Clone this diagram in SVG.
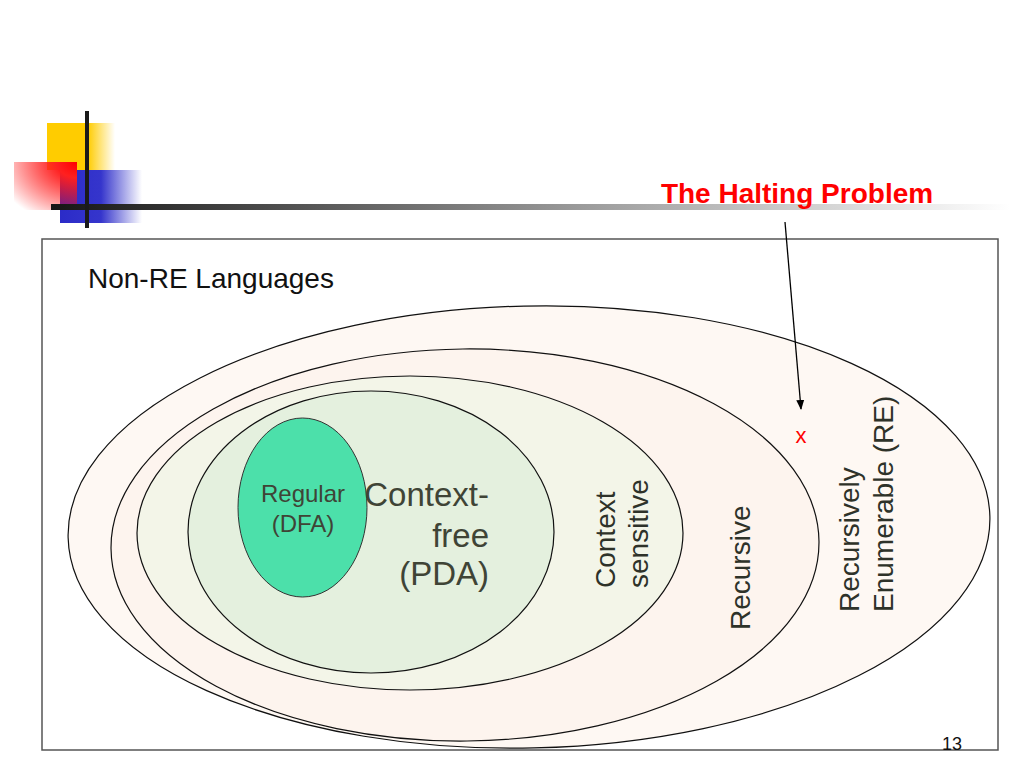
<svg xmlns="http://www.w3.org/2000/svg" width="1024" height="768" viewBox="0 0 1024 768">
<defs>
<style>
.lbl{font-family:"Liberation Sans",Arial,sans-serif;}
.set{stroke:#111;stroke-width:1.2;}
.dk{fill:#2e3229;font-size:28px;}
.cf{fill:#3f4436;}
</style>
<linearGradient id="gY" x1="0" y1="0" x2="1" y2="0">
<stop offset="0" stop-color="#FFCC00"/><stop offset="0.6" stop-color="#FFCC00"/><stop offset="1" stop-color="#FFCC00" stop-opacity="0"/>
</linearGradient>
<linearGradient id="gB" x1="0" y1="0" x2="1" y2="0">
<stop offset="0" stop-color="#2B2BC8"/><stop offset="0.5" stop-color="#3535CC"/><stop offset="1" stop-color="#3535CC" stop-opacity="0"/>
</linearGradient>
<radialGradient id="gR" cx="1" cy="0" r="1.3" fx="1" fy="0">
<stop offset="0" stop-color="#FF0000"/><stop offset="0.25" stop-color="#FF2020"/><stop offset="1" stop-color="#FF0000" stop-opacity="0"/>
</radialGradient>
<linearGradient id="gL" x1="51" y1="0" x2="1010" y2="0" gradientUnits="userSpaceOnUse">
<stop offset="0" stop-color="#151515"/><stop offset="0.55" stop-color="#9a9a9a"/><stop offset="1" stop-color="#ffffff"/>
</linearGradient>
<marker id="arr" markerWidth="10" markerHeight="10" refX="9" refY="5" orient="auto" markerUnits="userSpaceOnUse">
<path d="M0,1 L10,5 L0,9 Z" fill="#000"/>
</marker>
</defs>
<rect width="1024" height="768" fill="#fff"/>
<g id="decoration">
<rect x="47" y="123" width="68" height="47" fill="url(#gY)"/>
<rect x="60" y="170" width="82" height="53" fill="url(#gB)"/>
<rect x="14" y="162" width="63" height="48" fill="url(#gR)"/>
<rect x="51" y="204" width="960" height="6" fill="url(#gL)"/>
<rect x="85" y="111" width="4" height="117" fill="#1a1a1a"/>
</g>
<g id="title">
<text class="lbl" x="797" y="203" text-anchor="middle" font-size="28" font-weight="bold" fill="#FF0000">The Halting Problem</text>
</g>
<g id="frame">
<rect x="42" y="239" width="956" height="511" fill="none" stroke="#555" stroke-width="1.5"/>
<text class="lbl" x="88" y="288" font-size="28" fill="#111">Non-RE Languages</text>
</g>
<g id="re">
<ellipse class="set" cx="529" cy="527" rx="461" ry="221" fill="#FEF8F3" transform="rotate(-1.3 529 527)"/>
</g>
<g id="recursive">
<ellipse class="set" cx="465" cy="545" rx="354" ry="196" fill="#FDF4EE" transform="rotate(-0.6 465 545)"/>
</g>
<g id="context-sensitive">
<ellipse class="set" cx="410" cy="533" rx="273" ry="157" fill="#F3F5E8"/>
</g>
<g id="context-free">
<ellipse class="set" cx="371" cy="532" rx="183" ry="141" fill="#E4F0DE" stroke="#333"/>
</g>
<g id="regular">
<ellipse cx="302.5" cy="507.5" rx="64.5" ry="89.5" fill="#4CE0AA" stroke="#333" stroke-width="1"/>
<text class="lbl cf" x="303" y="502" text-anchor="middle" font-size="24">Regular</text>
<text class="lbl cf" x="303" y="532" text-anchor="middle" font-size="24">(DFA)</text>
</g>
<g id="labels">
<text class="lbl cf" x="489" y="506" text-anchor="end" font-size="33">Context-</text>
<text class="lbl cf" x="489" y="547" text-anchor="end" font-size="33">free</text>
<text class="lbl cf" x="489" y="585" text-anchor="end" font-size="33">(PDA)</text>
<text class="lbl dk" transform="translate(615,588) rotate(-90)">Context</text>
<text class="lbl dk" transform="translate(648,588) rotate(-90)">sensitive</text>
<text class="lbl dk" transform="translate(750,630) rotate(-90)">Recursive</text>
<text class="lbl dk" transform="translate(859,612) rotate(-90)">Recursively</text>
<text class="lbl dk" transform="translate(893,612) rotate(-90)">Enumerable (RE)</text>
<text class="lbl" x="801" y="443" text-anchor="middle" font-size="22" fill="#FF0000">x</text>
<text class="lbl" x="942" y="750" font-size="18" fill="#111">13</text>
</g>
<g id="connectors">
<line x1="785" y1="222" x2="801" y2="409" stroke="#000" stroke-width="1.3" marker-end="url(#arr)"/>
</g>
</svg>
